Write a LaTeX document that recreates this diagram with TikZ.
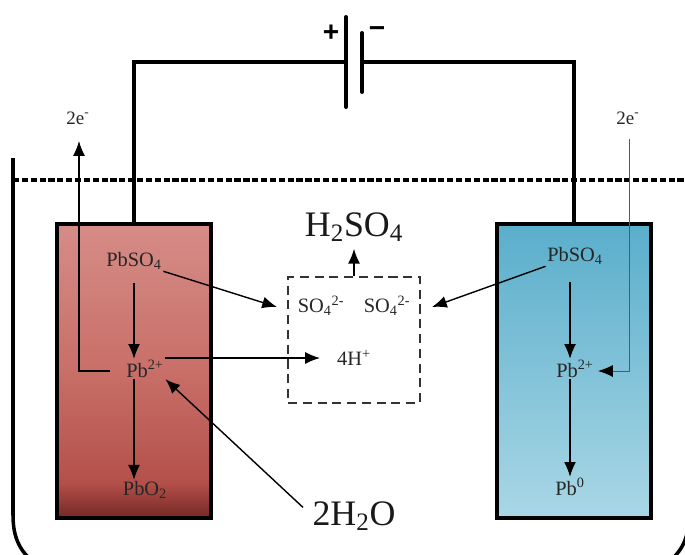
\documentclass[tikz,border=0pt]{standalone}
\usepackage{fontspec}
\usetikzlibrary{arrows.meta}
\setmainfont{Liberation Serif}
\newfontfamily\signfont{Liberation Sans}
\definecolor{redtop}{HTML}{D68C87}
\definecolor{redmid}{HTML}{C86F68}
\definecolor{redlow}{HTML}{B4504A}
\definecolor{reddark}{HTML}{752825}
\definecolor{bluetop}{HTML}{5AAECB}
\definecolor{bluelow}{HTML}{A9D7E6}
\pgfdeclareverticalshading{anodefill}{100bp}{color(0bp)=(reddark); color(25bp)=(reddark); color(31bp)=(redlow); color(50bp)=(redmid); color(75bp)=(redtop); color(100bp)=(redtop)}
\newcommand{\chemsize}{\fontsize{14.5}{17}\selectfont}
\newcommand{\bigsize}{\fontsize{25.5}{30}\selectfont}
\begin{document}
\begin{tikzpicture}[x=0.025cm,y=-0.025cm,
  wire/.style={line width=2.8pt,line join=miter},
  electrode/.style={draw=black,line width=2.5pt,minimum width=3.85cm,minimum height=7.35cm,inner sep=0pt},
  flow/.style={-{Latex[length=10.5pt,width=8.5pt,color=black]},line width=1pt},
  chem/.style={inner sep=1pt,text=black!85,font=\chemsize},
  bigchem/.style={inner sep=0pt,text=black!90,font=\bigsize}]
\useasboundingbox (0,0) rectangle (685,554);

% tank and liquid level
\draw[line width=2.5pt] (13,158) -- (13,515) .. controls (13,538) and (20,552) .. (36,564) -- (666,564) .. controls (682,552) and (689,538) .. (689,515);
\draw[line width=2.4pt,dash pattern=on 4.4pt off 1.9pt] (13,180) -- (685,180);

% electrodes
\node[electrode,shade,shading=anodefill] (anode) at (134,371) {};
\node[electrode,top color=bluetop,bottom color=bluelow] (cathode) at (574,371) {};

% battery
\coordinate (plus) at (346,62);
\coordinate (minus) at (362,62);
\draw[wire] (anode.north) |- (plus);
\draw[wire] (cathode.north) |- (minus);
\draw[wire,line cap=round] (346,17) -- (346,107);
\draw[wire,line cap=round] (362,33) -- (362,92);
\node[font=\signfont\bfseries\fontsize{20}{20}\selectfont,inner sep=0pt] (plussign) at (331,33) {+};
\node[font=\signfont\bfseries\fontsize{20}{20}\selectfont,inner sep=0pt] (minussign) at (377,32) {\char"2212};

% middle box
\node[draw=black!80,dash pattern=on 6.5pt off 4pt,line width=1pt,minimum width=3.3cm,minimum height=3.15cm,inner sep=0pt] (pool) at (354,340) {};
\node[chem] (sulfateL) at (321,306) {SO\textsubscript{4}\textsuperscript{2-}};
\node[chem] (sulfateR) at (387,306) {SO\textsubscript{4}\textsuperscript{2-}};
\node[chem] (proton) at (354,358) {4H\textsuperscript{+}};
\node[bigchem] (acid) at (354,227) {H\textsubscript{2}SO\textsubscript{4}};
\node[bigchem] (water) at (354,516) {2H\textsubscript{2}O};

% left electrode
\node[chem] (leadsulfL) at (134,261) {PbSO\textsubscript{4}};
\node[chem] (leadL) at (145,369) {Pb\textsuperscript{2+}};
\node[chem] (dioxide) at (145,490) {PbO\textsubscript{2}};
% right electrode
\node[chem] (leadsulfR) at (575,256) {PbSO\textsubscript{4}};
\node[chem] (leadR) at (575,369) {Pb\textsuperscript{2+}};
\node[chem] (metal) at (570,487) {Pb\textsuperscript{0}};

\node[chem,font=\fontsize{13.5}{16}\selectfont] (electronL) at (78,118) {2e\textsuperscript{-}};
\node[chem,font=\fontsize{13.5}{16}\selectfont] (electronR) at (628,118) {2e\textsuperscript{-}};

\coordinate (axisL) at (134,0);
\coordinate (axisR) at (570,0);
\coordinate (riseL) at (79,141);
\coordinate (dropR) at (629,139);
\coordinate (turnL) at (79,371);
\coordinate (turnR) at (629,371);
\coordinate (leftL) at (110,371);
\coordinate (rightR) at (598,371);
\coordinate (intoL) at (277,307);
\coordinate (intoR) at (432,307);

\draw[flow,shorten <=8pt] (leadsulfL.south -| axisL) -- (leadL.north -| axisL);
\draw[flow] (leadL.south -| axisL) -- (dioxide.north -| axisL);
\draw[flow,shorten <=11pt] (leadsulfR.south -| axisR) -- (leadR.north -| axisR);
\draw[flow] (leadR.south -| axisR) -- (metal.north -| axisR);
\draw[flow] (leftL) -- (turnL) -- (riseL);
\draw[flow,draw=black!65,line width=0.7pt] (dropR) -- (turnR) -- (rightR);
\draw[flow] (leadsulfL.south east) -- (intoL);
\draw[flow] (leadsulfR.south west) -- (intoR);
\draw[flow,shorten >=11pt] (leadL.east |- proton) -- (proton.west);
\draw[flow,shorten <=9pt] (water.west) -- (leadL.south east);
\draw[flow,shorten >=5pt] (pool.north) -- (acid.south);
\end{tikzpicture}
\end{document}
